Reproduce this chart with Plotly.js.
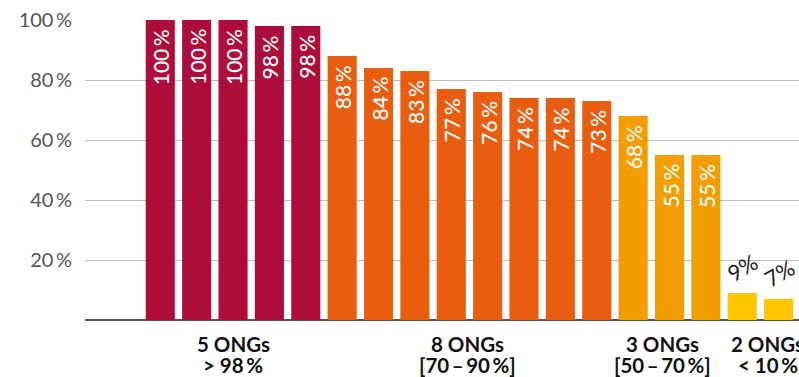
<!DOCTYPE html>
<html>
<head>
<meta charset="utf-8">
<script src="https://cdn.plot.ly/plotly-3.0.1.min.js"></script>
<style>html,body{margin:0;padding:0;background:#fff;}#chart{width:799px;height:377px;}</style>
</head>
<body>
<div id="chart"></div>
<script>
// Data
const values = [100, 100, 100, 98, 98, 88, 84, 83, 77, 76, 74, 74, 73, 68, 55, 55, 9, 7];
const groupOf = [0,0,0,0,0, 1,1,1,1,1,1,1,1, 2,2,2, 3,3];
const groupColors = ['#AD0D3B', '#E85D10', '#F29D00', '#FFC700'];
const groupLine1 = ['5 ONGs', '8 ONGs', '3 ONGs', '2 ONGs'];
const groupLine2 = ['> 98\u2009%', '[70\u2009\u2013\u200990\u2009%]', '[50\u2009\u2013\u200970\u2009%]', '< 10\u2009%'];
const groupLabelPos = [2, 8.45, 13.8, 16.7];
const yTicks = [20, 40, 60, 80, 100];
const yTickText = ['20\u2009%', '40\u2009%', '60\u2009%', '80\u2009%', '100\u2009%'];

const idx = values.map((v, i) => i);
const font = 'Lato, "Open Sans", sans-serif';

const traces = [
  {
    type: 'bar',
    x: idx,
    y: values,
    width: 0.8,
    marker: {color: idx.map(i => groupColors[groupOf[i]])},
    hoverinfo: 'none'
  }
];

const annotations = [];
idx.forEach(i => {
  const small = groupOf[i] === 3;
  if (!small) {
    annotations.push({
      x: i, xref: 'x', y: values[i], yref: 'y',
      xanchor: 'center', yanchor: 'top', yshift: -7,
      text: values[i] + '\u2009%',
      textangle: -90,
      showarrow: false,
      font: {family: font, size: 21, color: '#ffffff', weight: 500}
    });
  } else {
    annotations.push({
      x: i, xref: 'x', y: values[i], yref: 'y',
      xanchor: 'center', yanchor: 'bottom', yshift: 4,
      text: values[i] + '%',
      textangle: -30,
      showarrow: false,
      font: {family: font, size: 22, color: '#1a1a1a'}
    });
  }
});

groupLine1.forEach((t, g) => {
  annotations.push({
    x: groupLabelPos[g], xref: 'x',
    y: 0, yref: 'paper', yanchor: 'middle', yshift: -24,
    text: '<b>' + t + '</b>',
    showarrow: false,
    font: {family: font, size: 20.5, color: '#111111'},
    align: 'center'
  });
  annotations.push({
    x: groupLabelPos[g], xref: 'x',
    y: 0, yref: 'paper', yanchor: 'middle', yshift: -45,
    text: '<b>' + groupLine2[g] + '</b>',
    showarrow: false,
    font: {family: font, size: 20.5, color: '#111111'},
    align: 'center'
  });
});

const layout = {
  width: 799, height: 377,
  margin: {l: 85, r: 0, t: 20, b: 57},
  paper_bgcolor: '#ffffff', plot_bgcolor: '#ffffff',
  showlegend: false,
  xaxis: {
    range: [-2.07, 17.56],
    showticklabels: false, showgrid: false, zeroline: false, ticks: '',
    showline: false, fixedrange: true
  },
  yaxis: {
    range: [0, 100],
    tickvals: yTicks, ticktext: yTickText,
    tickfont: {family: font, size: 20, color: '#555555'},
    ticks: '', ticklen: 0, ticklabelstandoff: 12,
    showgrid: true, gridcolor: '#bdbdbd', gridwidth: 1,
    zeroline: true, zerolinecolor: '#555555', zerolinewidth: 2,
    showline: false, fixedrange: true
  },
  annotations: annotations
};

Plotly.newPlot('chart', traces, layout, {displayModeBar: false, staticPlot: true});
</script>
</body>
</html>
